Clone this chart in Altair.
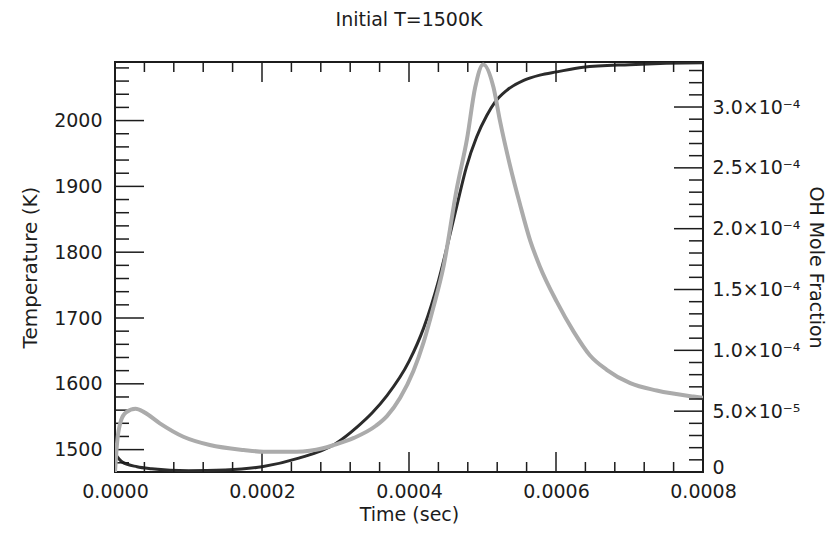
import altair as alt
import pandas as pd

# ---- data ----
time_T = [0, 0.00001, 0.00003, 0.00005, 0.0001, 0.00015, 0.0002, 0.00025, 0.0003,
          0.00033, 0.00035, 0.00037, 0.0004, 0.00042, 0.00044, 0.00045, 0.000465,
          0.000478, 0.000492, 0.000506, 0.000517, 0.000533, 0.000556, 0.000578,
          0.000601, 0.000637, 0.0007, 0.00075, 0.0008]
temperature = [1494, 1481, 1474, 1471, 1468, 1469, 1474, 1487, 1509,
               1535, 1556, 1582, 1634, 1685, 1756, 1800, 1870,
               1929, 1975, 2008, 2028, 2046, 2061, 2069,
               2074, 2081, 2085, 2087, 2088]

time_OH = [0, 0.000003, 0.000008, 0.000015, 0.000028, 0.00004, 0.000061, 0.000093,
           0.000129, 0.000175, 0.000202, 0.000247, 0.000283, 0.000297, 0.000325,
           0.000355, 0.00037, 0.000388, 0.000406, 0.00042, 0.000433, 0.000447,
           0.000465, 0.000479, 0.00049, 0.000501, 0.000515, 0.000524, 0.000537,
           0.000551, 0.000565, 0.000578, 0.000601, 0.000624, 0.000646, 0.000669,
           0.000701, 0.000737, 0.000787, 0.0008]
oh_fraction = [0, 2.5e-5, 4.2e-5, 4.9e-5, 5.2e-5, 4.9e-5, 4.0e-5, 2.9e-5,
               2.22e-5, 1.81e-5, 1.67e-5, 1.67e-5, 1.95e-5, 2.2e-5, 2.8e-5,
               3.8e-5, 4.6e-5, 6.1e-5, 8.3e-5, 1.07e-4, 1.35e-4, 1.69e-4,
               2.33e-4, 2.74e-4, 3.16e-4, 3.35e-4, 3.16e-4, 2.88e-4, 2.53e-4,
               2.2e-4, 1.9e-4, 1.69e-4, 1.40e-4, 1.154e-4, 9.6e-5, 8.4e-5,
               7.3e-5, 6.7e-5, 6.2e-5, 6.1e-5]

# tick values
x_major = [0, 0.0002, 0.0004, 0.0006, 0.0008]
x_minor = [i * 0.00004 for i in range(21) if i % 5 != 0]
T_major = [1500, 1600, 1700, 1800, 1900, 2000]
T_minor = [v for v in range(1480, 2090, 20) if v % 100 != 0]
OH_major = [0, 5e-5, 1e-4, 1.5e-4, 2e-4, 2.5e-4, 3e-4]
OH_minor = [i * 1e-5 for i in range(1, 34) if i % 5 != 0]

X_DOMAIN = [0, 0.0008]
T_DOMAIN = [1466, 2089]
OH_DOMAIN = [0, 3.37e-4]

W, H = 588, 410
INK = "#1c1c1c"
FONT = "DejaVu Sans"

xs = alt.Scale(domain=X_DOMAIN, nice=False, zero=False)
ts = alt.Scale(domain=T_DOMAIN, nice=False, zero=False)
os_ = alt.Scale(domain=OH_DOMAIN, nice=False, zero=False)

df_T = pd.DataFrame({"time": time_T, "T": temperature})
df_OH = pd.DataFrame({"time": time_OH, "OH": oh_fraction})

x_axis = alt.Axis(values=x_major, format=".4f", title="Time (sec)", ticks=False,
                  domain=False, grid=False, labelFlush=False, labelOverlap=False,
                  labelPadding=10, titlePadding=4, orient="bottom",
                  titleFontSize=19)
t_axis = alt.Axis(values=T_major, format="d", title="Temperature (K)", ticks=False,
                  domain=False, grid=False, labelPadding=13, titlePadding=13,
                  orient="left", labelOverlap=False, titleFontSize=20)
oh_axis = alt.Axis(values=OH_major, title="OH Mole Fraction", ticks=False,
                   domain=False, grid=False, labelPadding=9, titlePadding=6,
                   orient="right", labelOverlap=False, titleFontSize=19,
                   labelOffset={"condition": {"test": "datum.value === 0", "value": -5},
                                "value": 0},
                   labelExpr="datum.value == 0 ? '0' : (datum.value < 9.9e-5 ? "
                             "format(datum.value*1e5, '.1f') + '×10⁻⁵' : "
                             "format(datum.value*1e4, '.1f') + '×10⁻⁴')")

temp_line = alt.Chart(df_T).mark_line(
    color="#2b2b2b", strokeWidth=3, clip=True, interpolate="monotone"
).encode(
    x=alt.X("time:Q", scale=xs, axis=x_axis),
    y=alt.Y("T:Q", scale=ts, axis=t_axis),
)

oh_line = alt.Chart(df_OH).mark_line(
    color="#ababab", strokeWidth=4, clip=True, interpolate="monotone"
).encode(
    x=alt.X("time:Q", scale=xs, axis=x_axis),
    y=alt.Y("OH:Q", scale=os_, axis=oh_axis),
)


def yticks(values, scale, axis, x0, x1):
    return alt.Chart(pd.DataFrame({"v": values})).mark_rule(
        color=INK, strokeWidth=1.5
    ).encode(
        y=alt.Y("v:Q", scale=scale, axis=axis),
        x=alt.value(x0), x2=alt.value(x1),
    )


def xticks(values, y0, y1):
    return alt.Chart(pd.DataFrame({"v": values})).mark_rule(
        color=INK, strokeWidth=1.5
    ).encode(
        x=alt.X("v:Q", scale=xs, axis=x_axis),
        y=alt.value(y0), y2=alt.value(y1),
    )


left_group = alt.layer(
    temp_line,
    yticks(T_major, ts, t_axis, 0, 29),
    yticks(T_minor, ts, t_axis, 0, 14),
    xticks(x_major, H - 20, H),
    xticks(x_minor, H - 10, H),
    xticks(x_major, 0, 20),
    xticks(x_minor, 0, 10),
)

right_group = alt.layer(
    oh_line,
    yticks(OH_major, os_, oh_axis, W - 29, W),
    yticks(OH_minor, os_, oh_axis, W - 14, W),
)

chart = alt.layer(left_group, right_group).resolve_scale(y="independent").properties(
    width=W, height=H,
    autosize=alt.AutoSizeParams(type="none"),
    padding={"left": 107, "top": 54, "right": 127, "bottom": 55},
    title=alt.TitleParams("Initial T=1500K", fontSize=19, fontWeight="normal",
                          font=FONT, anchor="middle", frame="group", offset=31,
                          color=INK),
).configure_view(
    stroke=INK, strokeWidth=2
).configure_axis(
    labelFont=FONT, titleFont=FONT, labelFontSize=19,
    titleFontWeight="normal", labelColor=INK, titleColor=INK
)

chart.save("out.html", embed_options={"renderer": "svg", "actions": False})
